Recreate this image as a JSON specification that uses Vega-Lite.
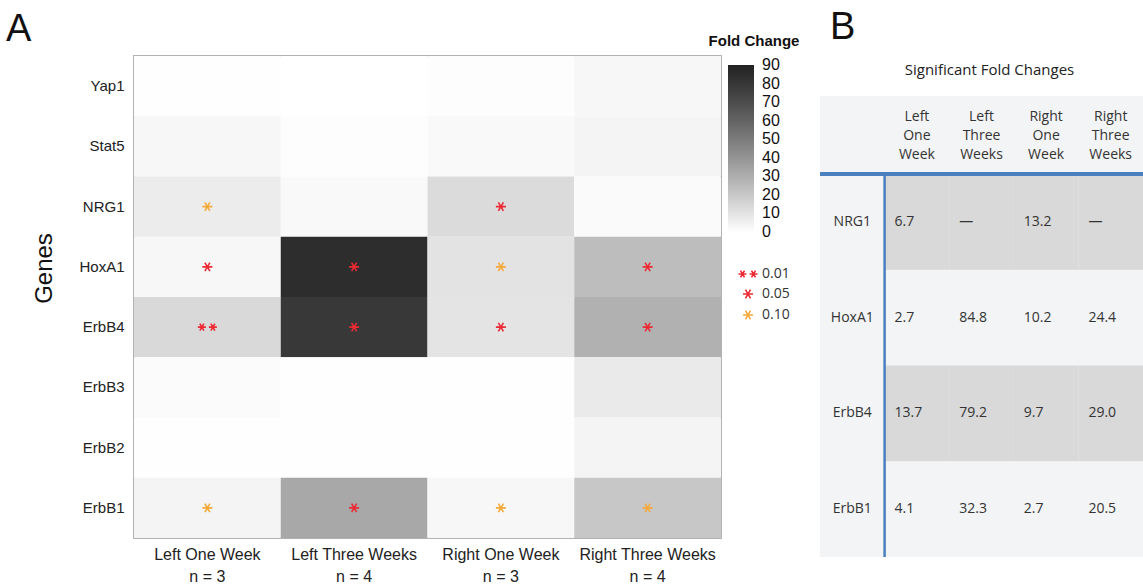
{
  "$schema": "https://vega.github.io/schema/vega-lite/v6.json",
  "padding": {"left": 5, "top": 9, "right": 0, "bottom": 0},
  "config": {"font": "Liberation Sans", "view": {"stroke": null}},
  "resolve": {"legend": {"color": "independent", "stroke": "independent", "shape": "independent"}},
  "align": "none",
  "datasets": {
    "heat": [
      {"gene": "Yap1", "cond": "Left One Week", "fc": 0.5, "p": null},
      {"gene": "Yap1", "cond": "Left Three Weeks", "fc": 0, "p": null},
      {"gene": "Yap1", "cond": "Right One Week", "fc": 0.6, "p": null},
      {"gene": "Yap1", "cond": "Right Three Weeks", "fc": 3, "p": null},
      {"gene": "Stat5", "cond": "Left One Week", "fc": 3, "p": null},
      {"gene": "Stat5", "cond": "Left Three Weeks", "fc": 0.8, "p": null},
      {"gene": "Stat5", "cond": "Right One Week", "fc": 2.2, "p": null},
      {"gene": "Stat5", "cond": "Right Three Weeks", "fc": 3.8, "p": null},
      {"gene": "NRG1", "cond": "Left One Week", "fc": 6.7, "p": "0.10"},
      {"gene": "NRG1", "cond": "Left Three Weeks", "fc": 2, "p": null},
      {"gene": "NRG1", "cond": "Right One Week", "fc": 13.2, "p": "0.05"},
      {"gene": "NRG1", "cond": "Right Three Weeks", "fc": 1.7, "p": null},
      {"gene": "HoxA1", "cond": "Left One Week", "fc": 2.7, "p": "0.05"},
      {"gene": "HoxA1", "cond": "Left Three Weeks", "fc": 84.8, "p": "0.05"},
      {"gene": "HoxA1", "cond": "Right One Week", "fc": 10.2, "p": "0.10"},
      {"gene": "HoxA1", "cond": "Right Three Weeks", "fc": 24.4, "p": "0.05"},
      {"gene": "ErbB4", "cond": "Left One Week", "fc": 13.7, "p": "0.01"},
      {"gene": "ErbB4", "cond": "Left Three Weeks", "fc": 79.2, "p": "0.05"},
      {"gene": "ErbB4", "cond": "Right One Week", "fc": 9.7, "p": "0.05"},
      {"gene": "ErbB4", "cond": "Right Three Weeks", "fc": 29.0, "p": "0.05"},
      {"gene": "ErbB3", "cond": "Left One Week", "fc": 1.5, "p": null},
      {"gene": "ErbB3", "cond": "Left Three Weeks", "fc": 0.5, "p": null},
      {"gene": "ErbB3", "cond": "Right One Week", "fc": 0.5, "p": null},
      {"gene": "ErbB3", "cond": "Right Three Weeks", "fc": 7.5, "p": null},
      {"gene": "ErbB2", "cond": "Left One Week", "fc": 0.4, "p": null},
      {"gene": "ErbB2", "cond": "Left Three Weeks", "fc": 0.4, "p": null},
      {"gene": "ErbB2", "cond": "Right One Week", "fc": 0.2, "p": null},
      {"gene": "ErbB2", "cond": "Right Three Weeks", "fc": 3.8, "p": null},
      {"gene": "ErbB1", "cond": "Left One Week", "fc": 4.1, "p": "0.10"},
      {"gene": "ErbB1", "cond": "Left Three Weeks", "fc": 32.3, "p": "0.05"},
      {"gene": "ErbB1", "cond": "Right One Week", "fc": 2.7, "p": "0.10"},
      {"gene": "ErbB1", "cond": "Right Three Weeks", "fc": 20.5, "p": "0.10"}
    ],
    "ttl": [
      {"t": "Significant Fold Changes"}
    ],
    "head": [
      {"col": "LOW", "label": "Left\nOne\nWeek"},
      {"col": "LTW", "label": "Left\nThree\nWeeks"},
      {"col": "ROW", "label": "Right\nOne\nWeek"},
      {"col": "RTW", "label": "Right\nThree\nWeeks"}
    ],
    "body": [
      {"gene": "NRG1", "col": "label", "val": "NRG1"},
      {"gene": "NRG1", "col": "LOW", "val": "6.7"},
      {"gene": "NRG1", "col": "LTW", "val": "—"},
      {"gene": "NRG1", "col": "ROW", "val": "13.2"},
      {"gene": "NRG1", "col": "RTW", "val": "—"},
      {"gene": "HoxA1", "col": "label", "val": "HoxA1"},
      {"gene": "HoxA1", "col": "LOW", "val": "2.7"},
      {"gene": "HoxA1", "col": "LTW", "val": "84.8"},
      {"gene": "HoxA1", "col": "ROW", "val": "10.2"},
      {"gene": "HoxA1", "col": "RTW", "val": "24.4"},
      {"gene": "ErbB4", "col": "label", "val": "ErbB4"},
      {"gene": "ErbB4", "col": "LOW", "val": "13.7"},
      {"gene": "ErbB4", "col": "LTW", "val": "79.2"},
      {"gene": "ErbB4", "col": "ROW", "val": "9.7"},
      {"gene": "ErbB4", "col": "RTW", "val": "29.0"},
      {"gene": "ErbB1", "col": "label", "val": "ErbB1"},
      {"gene": "ErbB1", "col": "LOW", "val": "4.1"},
      {"gene": "ErbB1", "col": "LTW", "val": "32.3"},
      {"gene": "ErbB1", "col": "ROW", "val": "2.7"},
      {"gene": "ErbB1", "col": "RTW", "val": "20.5"}
    ]
  },
  "spacing": 17,
  "hconcat": [
    {
      "title": {"text": "A", "anchor": "start", "frame": "group", "fontSize": 38, "fontWeight": "normal", "dx": -128, "offset": -15, "color": "#111"},
      "width": 587,
      "height": 482,
      "view": {"stroke": "#b3b3b3", "strokeWidth": 2},
      "data": {"name": "heat"},
      "layer": [
        {
          "mark": "rect",
          "encoding": {
            "x": {"field": "cond", "type": "nominal",
              "scale": {"domain": ["Left One Week", "Left Three Weeks", "Right One Week", "Right Three Weeks"], "paddingInner": 0, "paddingOuter": 0},
              "axis": {"title": null, "labelAngle": 0, "domain": false, "ticks": false, "labelPadding": 8, "labelFontSize": 16, "labelColor": "#222", "labelLineHeight": 22,
                "labelExpr": "[datum.label, 'n = ' + (indexof(datum.label, 'Three') >= 0 ? '4' : '3')]"}},
            "y": {"field": "gene", "type": "nominal",
              "scale": {"domain": ["Yap1", "Stat5", "NRG1", "HoxA1", "ErbB4", "ErbB3", "ErbB2", "ErbB1"], "paddingInner": 0, "paddingOuter": 0},
              "axis": {"title": "Genes", "titleFontSize": 24, "titleFontWeight": "normal", "titlePadding": 22, "titleColor": "#111", "titleY": 212, "domain": false, "ticks": false, "labelPadding": 10, "labelFontSize": 15, "labelColor": "#222"}},
            "color": {"field": "fc", "type": "quantitative",
              "scale": {"domain": [0, 90], "range": ["#ffffff", "#222222"]},
              "legend": {"title": "Fold Change", "orient": "none", "direction": "vertical", "legendX": 575, "legendY": -22,
                "titleFontSize": 15, "titleFontWeight": "bold", "titleColor": "#111", "titleAnchor": "middle", "titlePadding": 16,
                "gradientLength": 167, "gradientThickness": 26, "gradientStrokeWidth": 0,
                "values": [0, 10, 20, 30, 40, 50, 60, 70, 80, 90],
                "labelFontSize": 16, "labelOverlap": false, "labelOffset": 8, "labelColor": "#111",
                "encode": {"labels": {"update": {"baseline": {"value": "middle"}}}}}}
          }
        },
        {
          "transform": [{"filter": "isValid(datum.p)"}],
          "mark": {"type": "point", "filled": false, "strokeWidth": 1.6, "size": 100, "opacity": 1},
          "encoding": {
            "x": {"field": "cond", "type": "nominal"},
            "y": {"field": "gene", "type": "nominal"},
            "shape": {"field": "p", "type": "nominal",
              "scale": {"domain": ["0.01", "0.05", "0.10"],
                "range": ["M-1.9,0L-0.3,0M-1.5,-0.69L-0.7,0.69M-1.5,0.69L-0.7,-0.69M0.3,0L1.9,0M0.7,-0.69L1.5,0.69M0.7,0.69L1.5,-0.69",
                          "M-1,0L1,0M-0.5,-0.87L0.5,0.87M-0.5,0.87L0.5,-0.87",
                          "M-1,0L1,0M-0.5,-0.87L0.5,0.87M-0.5,0.87L0.5,-0.87"]},
              "legend": {"title": null, "orient": "none", "legendX": 607, "legendY": 211, "labelFont": "Open Sans", "labelFontSize": 14, "labelColor": "#333", "labelOffset": 7, "rowPadding": 5, "symbolStrokeWidth": 1.6, "symbolSize": 100}},
            "stroke": {"field": "p", "type": "nominal",
              "scale": {"domain": ["0.01", "0.05", "0.10"], "range": ["#ed2a33", "#ed2a33", "#f5a93a"]},
              "legend": {"title": null, "orient": "none", "legendX": 607, "legendY": 211, "labelFont": "Open Sans", "labelFontSize": 14, "labelColor": "#333", "labelOffset": 7, "rowPadding": 5, "symbolStrokeWidth": 1.6, "symbolSize": 100}}
          }
        }
      ]
    },
    {
      "title": {"text": "B", "anchor": "start", "fontSize": 38, "fontWeight": "normal", "dx": 12, "offset": 9, "color": "#111"},
      "spacing": 0,
      "vconcat": [
        {
          "width": 323,
          "height": 40,
          "view": {"stroke": null},
          "data": {"name": "ttl"},
          "mark": {"type": "text", "font": "Open Sans", "fontSize": 15, "color": "#222", "dy": -6, "dx": 8},
          "encoding": {"text": {"field": "t"}}
        },
        {
          "width": 323,
          "height": 76,
          "view": {"fill": "#f3f4f6", "stroke": null},
          "data": {"name": "head"},
          "mark": {"type": "text", "lineBreak": "\n", "font": "Open Sans", "fontSize": 14, "lineHeight": 19, "color": "#333", "baseline": "middle", "dy": -17},
          "encoding": {
            "x": {"field": "col", "type": "nominal", "scale": {"domain": ["label", "LOW", "LTW", "ROW", "RTW"], "paddingInner": 0, "paddingOuter": 0}, "axis": null},
            "text": {"field": "label"}
          }
        },
        {
          "width": 323,
          "height": 383,
          "view": {"fill": "#f3f4f6", "stroke": null},
          "data": {"name": "body"},
          "layer": [
            {
              "transform": [{"filter": "datum.col !== 'label' && (datum.gene === 'NRG1' || datum.gene === 'ErbB4')"}],
              "mark": {"type": "rect", "color": "#d9d9d9"},
              "encoding": {
                "x": {"field": "col", "type": "nominal", "scale": {"domain": ["label", "LOW", "LTW", "ROW", "RTW"], "paddingInner": 0, "paddingOuter": 0}, "axis": null},
                "y": {"field": "gene", "type": "nominal", "scale": {"domain": ["NRG1", "HoxA1", "ErbB4", "ErbB1"], "paddingInner": 0, "paddingOuter": 0}, "axis": null}
              }
            },
            {
              "transform": [{"filter": "datum.col === 'label'"}],
              "mark": {"type": "text", "font": "Open Sans", "fontSize": 14, "color": "#333", "align": "center"},
              "encoding": {
                "x": {"field": "col", "type": "nominal"},
                "y": {"field": "gene", "type": "nominal"},
                "text": {"field": "val"}
              }
            },
            {
              "transform": [{"filter": "datum.col !== 'label'"}],
              "mark": {"type": "text", "font": "Open Sans", "fontSize": 14, "color": "#333", "align": "left", "dx": 10},
              "encoding": {
                "x": {"field": "col", "type": "nominal", "bandPosition": 0},
                "y": {"field": "gene", "type": "nominal"},
                "text": {"field": "val"}
              }
            },
            {
              "transform": [{"filter": "datum.col === 'label' && datum.gene === 'NRG1'"}],
              "mark": {"type": "rule", "color": "#4a80bf", "strokeWidth": 4},
              "encoding": {
                "y": {"field": "gene", "type": "nominal", "bandPosition": 0}
              }
            },
            {
              "transform": [{"filter": "datum.col === 'LOW' && datum.gene === 'NRG1'"}],
              "mark": {"type": "rule", "color": "#4a80bf", "strokeWidth": 2.5},
              "encoding": {
                "x": {"field": "col", "type": "nominal", "bandPosition": 0}
              }
            }
          ]
        }
      ]
    }
  ]
}
